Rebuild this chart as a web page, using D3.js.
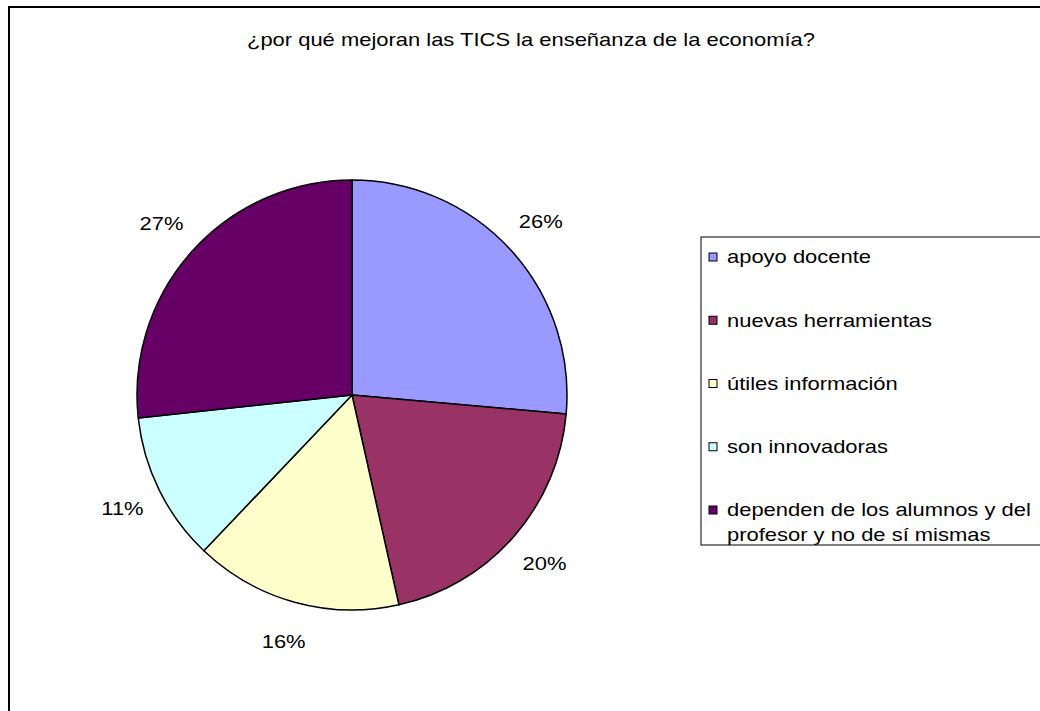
<!DOCTYPE html>
<html>
<head>
<meta charset="utf-8">
<script src="https://cdn.jsdelivr.net/npm/d3@7"></script>
<style>
  html, body { margin: 0; padding: 0; background: #fff; }
  svg { display: block; }
  text { font-family: "Liberation Sans", Arial, sans-serif; fill: #000; }
</style>
</head>
<body>
<svg id="chart" width="1040" height="711"></svg>
<script>
const title = "¿por qué mejoran las TICS la enseñanza de la economía?";
const categories = ["apoyo docente", "nuevas herramientas", "útiles información", "son innovadoras", "dependen de los alumnos y del profesor y no de sí mismas"];
const legendLines = [["apoyo docente"], ["nuevas herramientas"], ["útiles información"], ["son innovadoras"], ["dependen de los alumnos y del", "profesor y no de sí mismas"]];
const values = [26.4, 20.1, 15.6, 11.2, 26.7];
const colors = ["#9999FF", "#993366", "#FFFFCC", "#CCFFFF", "#660066"];

const svg = d3.select("#chart");
const SX = 1.22; // horizontal stretch of the reference's lettering

function stext(parent, x, y, str, anchor) {
  return parent.append("text")
    .attr("transform", `translate(${x},${y}) scale(${SX},1)`)
    .attr("text-anchor", anchor || "start")
    .attr("dy", "0.35em")
    .style("font-size", "18px")
    .text(str);
}

// outer chart border
svg.append("rect").attr("x", 9).attr("y", 7).attr("width", 1100).attr("height", 800)
  .attr("fill", "#fff").attr("stroke", "#000").attr("stroke-width", 2);

stext(svg, 531, 40, title, "middle");

const cx = 352, cy = 395, R = 215;
const total = d3.sum(values);
const pie = d3.pie().sort(null).value(d => d)(values);
const arc = d3.arc().innerRadius(0).outerRadius(R);
const g = svg.append("g").attr("transform", `translate(${cx},${cy})`);
g.selectAll("path").data(pie).join("path")
  .attr("d", arc)
  .attr("fill", (d, i) => colors[i])
  .attr("stroke", "#000").attr("stroke-width", 1.5).attr("stroke-linejoin", "round");

const labelArc = d3.arc().innerRadius(256).outerRadius(256);
pie.forEach(d => {
  const [x, y] = labelArc.centroid(d);
  stext(g, x, y, Math.round(d.value / total * 100) + "%", "middle");
});

// legend
const lg = svg.append("g");
lg.append("rect").attr("x", 701).attr("y", 237).attr("width", 400).attr("height", 308)
  .attr("fill", "#fff").attr("stroke", "#000").attr("stroke-width", 1);
const rowY = d3.scalePoint().domain(categories).range([257, 510]);
categories.forEach((c, i) => {
  const y = rowY(c);
  lg.append("rect").attr("x", 709).attr("y", y - 4).attr("width", 8).attr("height", 8)
    .attr("fill", colors[i]).attr("stroke", "#000").attr("stroke-width", 1);
  legendLines[i].forEach((line, j) => stext(lg, 727, y + j * 25, line));
});
</script>
</body>
</html>
